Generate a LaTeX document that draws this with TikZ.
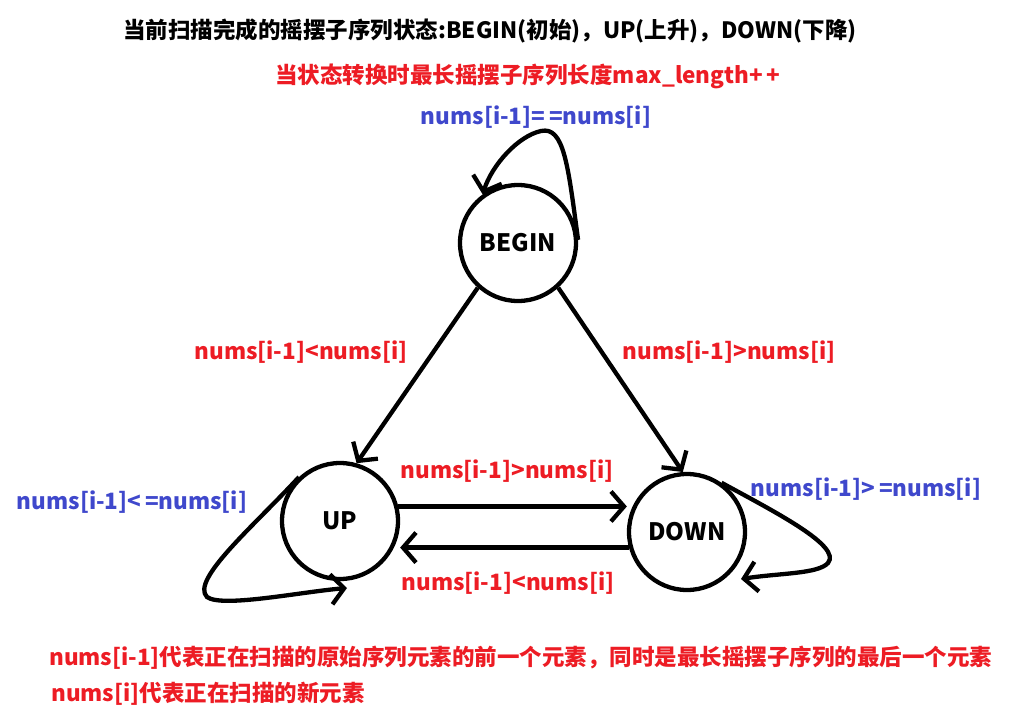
\documentclass[tikz,border=0pt]{standalone}
\usepackage{fontspec}
\setmainfont{Noto Sans CJK SC}
\usetikzlibrary{arrows.meta}
\definecolor{pred}{RGB}{237,28,36}
\definecolor{pblue}{RGB}{63,72,204}
\begin{document}
\begin{tikzpicture}[x=1pt,y=-1pt,
  state/.style={circle,draw=black,line width=4.3pt,minimum size=116pt,inner sep=0pt,font=\bfseries\fontsize{24}{28}\selectfont},
  edge/.style={line width=4.3pt,-{Straight Barb[length=13pt,width=30pt]}},
  rlab/.style={text=pred,font=\bfseries\fontsize{22.5}{26}\selectfont,inner sep=0pt},
  blab/.style={text=pblue,font=\bfseries\fontsize{22.5}{26}\selectfont,inner sep=0pt},
  big/.style={font=\bfseries\fontsize{22.5}{26}\selectfont,inner sep=0pt}]
\useasboundingbox[fill=white] (0,0) rectangle (1024,726);

\node[state] (begin) at (518,243) {BEGIN};
\node[state] (up) at (340,521) {UP};
\node[state] (down) at (687,532) {DOWN};

\coordinate (uptip) at (347,588);
\coordinate (downtip) at (741,579);

\draw[edge] (begin.228) -- (up.74);
\draw[edge] (begin.-48) -- (down.94);
\draw[edge] (up.14) -- (up.14 -| down.west);
\draw[edge] (down.195) -- (down.195 -| up.east);

\draw[edge] (begin.3) .. controls (568,165) and (564,126) .. (541,131) .. controls (518,136) and (492,165) .. (begin.126);
\draw[edge] (up.133) .. controls (255,525) and (190,580) .. (207,597) .. controls (222,608) and (300,592) .. (uptip);
\draw[edge] (down.55) .. controls (775,512) and (842,546) .. (828,563) .. controls (818,574) and (780,573) .. (downtip);

\node[big] (title) at (490,31) {当前扫描完成的摇摆子序列状态:BEGIN(初始)，UP(上升)，DOWN(下降)};
\node[big,text=pred] (sub) at (528,76) {当状态转换时最长摇摆子序列长度max\_length+\,+};

\node[blab] (l1) at (536,117) {nums[i-1]=\,=nums[i]};
\node[rlab] (l2) at (301,352) {nums[i-1]<nums[i]};
\node[rlab] (l3) at (729,352) {nums[i-1]>nums[i]};
\node[rlab] (l4) at (507,471) {nums[i-1]>nums[i]};
\node[rlab] (l5) at (508,583) {nums[i-1]<nums[i]};
\node[blab] (l6) at (132,502) {nums[i-1]<\,=nums[i]};
\node[blab] (l7) at (866,489) {nums[i-1]>\,=nums[i]};

\node[big,text=pred,anchor=west] (b1) at (49,658) {nums[i-1]代表正在扫描的原始序列元素的前一个元素，同时是最长摇摆子序列的最后一个元素};
\node[big,text=pred,anchor=west] (b2) at (51,694) {nums[i]代表正在扫描的新元素};
\end{tikzpicture}
\end{document}
